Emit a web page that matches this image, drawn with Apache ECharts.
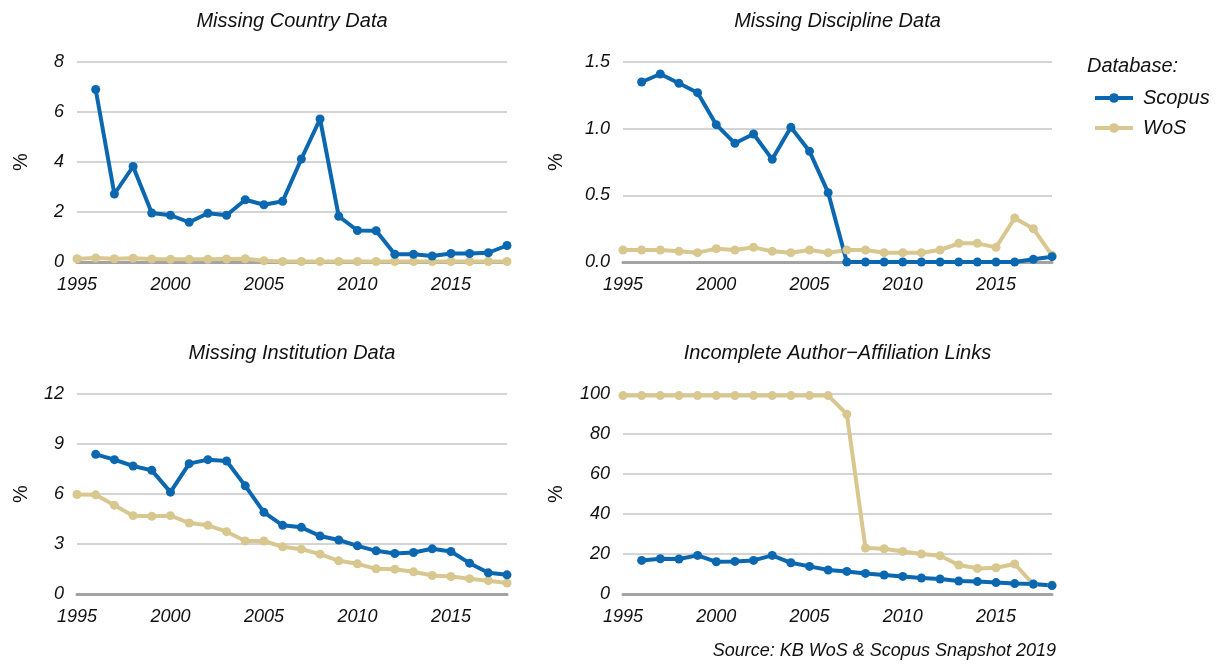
<!DOCTYPE html>
<html lang="en">
<head>
<meta charset="UTF-8">
<title>Missing data by database</title>
<script src="https://cdn.jsdelivr.net/npm/echarts@6/dist/echarts.min.js"></script>
<style>
  html, body { margin: 0; padding: 0; background: #fff; }
  #chart { width: 1221px; height: 664px; }
</style>
</head>
<body>
<div id="chart"></div>
<script>
// years on the x axis
var years = [1995, 1996, 1997, 1998, 1999, 2000, 2001, 2002, 2003, 2004, 2005, 2006,
             2007, 2008, 2009, 2010, 2011, 2012, 2013, 2014, 2015, 2016, 2017, 2018];
var xTicks = [1995, 2000, 2005, 2010, 2015];

var panelTitles = ['Missing Country Data', 'Missing Discipline Data',
                   'Missing Institution Data', 'Incomplete Author\u2212Affiliation Links'];

// Missing Country Data (%)
var countryScopus = [null, 6.90, 2.72, 3.82, 1.96, 1.87, 1.59, 1.95, 1.87, 2.49, 2.29, 2.43,
                     4.12, 5.72, 1.83, 1.26, 1.25, 0.31, 0.31, 0.24, 0.34, 0.34, 0.37, 0.66];
var countryWos = [0.13, 0.16, 0.13, 0.15, 0.12, 0.11, 0.11, 0.11, 0.12, 0.13, 0.05, 0.02,
                  0.02, 0.02, 0.02, 0.02, 0.02, 0.02, 0.02, 0.02, 0.02, 0.02, 0.02, 0.02];

// Missing Discipline Data (%)
var disciplineScopus = [null, 1.35, 1.41, 1.34, 1.27, 1.03, 0.89, 0.96, 0.77, 1.01, 0.83, 0.52,
                        0.00, 0.00, 0.00, 0.00, 0.00, 0.00, 0.00, 0.00, 0.00, 0.00, 0.02, 0.04];
var disciplineWos = [0.09, 0.09, 0.09, 0.08, 0.07, 0.10, 0.09, 0.11, 0.08, 0.07, 0.09, 0.07,
                     0.09, 0.09, 0.07, 0.07, 0.07, 0.09, 0.14, 0.14, 0.11, 0.33, 0.25, 0.05];

// Missing Institution Data (%)
var institutionScopus = [null, 8.38, 8.06, 7.68, 7.42, 6.11, 7.82, 8.06, 7.98, 6.49, 4.90, 4.12,
                         4.00, 3.48, 3.24, 2.89, 2.59, 2.43, 2.49, 2.71, 2.55, 1.85, 1.27, 1.15];
var institutionWos = [5.97, 5.95, 5.33, 4.70, 4.66, 4.70, 4.26, 4.12, 3.74, 3.18, 3.18, 2.83,
                      2.69, 2.39, 1.99, 1.81, 1.51, 1.49, 1.33, 1.11, 1.05, 0.92, 0.80, 0.66];

// Incomplete Author-Affiliation Links (%)
var linksScopus = [null, 16.8, 17.6, 17.5, 19.3, 16.1, 16.3, 16.8, 19.3, 15.6, 13.8, 12.0,
                   11.3, 10.3, 9.5, 8.8, 8.0, 7.5, 6.5, 6.2, 5.7, 5.2, 5.0, 4.2];
var linksWos = [99.2, 99.2, 99.2, 99.2, 99.2, 99.2, 99.2, 99.2, 99.2, 99.2, 99.2, 99.2,
                89.9, 23.0, 22.6, 21.3, 20.0, 19.1, 14.5, 12.8, 13.1, 15.0, 4.8, 4.5];

// y axis settings per panel
var yMax = [8, 1.5, 12, 100];
var yStep = [2, 0.5, 3, 20];

var scopusColor = '#0b68b0';
var wosColor = '#d8c78e';
var fontName = '"Liberation Sans", Arial, Helvetica, sans-serif';

function pairs(vals) {
    var out = [];
    for (var i = 0; i < years.length; i++) {
        if (vals[i] !== null) out.push([years[i], vals[i]]);
    }
    return out;
}

// panel boxes: [left, top, width, height]
var boxes = [[77, 62, 430, 200], [623, 62, 429, 200], [77, 394, 430, 200], [623, 394, 429, 200]];
var nameGaps = [46, 57, 46, 57];

var grids = [], xAxes = [], yAxes = [], titles = [];
boxes.forEach(function (b, i) {
    grids.push({ left: b[0], top: b[1], width: b[2], height: b[3], containLabel: false });
    xAxes.push({
        type: 'value', gridIndex: i, min: 1995, max: 2018, interval: 5,
        axisLine: { show: true, onZero: true, lineStyle: { color: '#a3a3a3', width: 3 } },
        axisTick: { show: false },
        splitLine: { show: false },
        axisLabel: {
            margin: 14, fontSize: 18, fontStyle: 'italic', fontFamily: fontName, color: '#111',
            showMaxLabel: false,
            formatter: function (v) { return xTicks.indexOf(v) >= 0 ? String(v) : ''; }
        }
    });
    yAxes.push({
        type: 'value', gridIndex: i, min: 0, max: yMax[i], interval: yStep[i],
        name: '%', nameLocation: 'middle', nameGap: nameGaps[i], nameRotate: 90,
        nameTextStyle: { fontSize: 20, fontFamily: fontName, color: '#111' },
        axisLine: { show: false },
        axisTick: { show: false },
        splitLine: { show: true, lineStyle: { color: '#c6c6c6', width: 1.5 } },
        axisLabel: {
            margin: 13, fontSize: 18, fontStyle: 'italic', fontFamily: fontName, color: '#111',
            formatter: function (v) { return i === 1 ? v.toFixed(1) : String(v); }
        }
    });
    titles.push({
        text: panelTitles[i], left: b[0] + b[2] / 2, top: b[1] - 51, textAlign: 'center', padding: 0,
        textStyle: { fontSize: 20, fontWeight: 'normal', fontStyle: 'italic', fontFamily: fontName, color: '#111' }
    });
});

titles.push({
    text: 'Database:', left: 1087, top: 56, padding: 0,
    textStyle: { fontSize: 20, fontWeight: 'normal', fontStyle: 'italic', fontFamily: fontName, color: '#111' }
});
titles.push({
    text: 'Source: KB WoS & Scopus Snapshot 2019', left: 1056, top: 642, textAlign: 'right', padding: 0,
    textStyle: { fontSize: 18, fontWeight: 'normal', fontStyle: 'italic', fontFamily: fontName, color: '#111' }
});

var scopusSets = [countryScopus, disciplineScopus, institutionScopus, linksScopus];
var wosSets = [countryWos, disciplineWos, institutionWos, linksWos];

function lineSeries(name, vals, color, idx) {
    return {
        name: name, type: 'line', xAxisIndex: idx, yAxisIndex: idx,
        data: pairs(vals),
        symbol: 'circle', symbolSize: 9, showSymbol: true,
        lineStyle: { color: color, width: 4 },
        itemStyle: { color: color },
        emphasis: { disabled: true }
    };
}

var series = [];
for (var k = 0; k < 4; k++) {
    series.push(lineSeries('WoS', wosSets[k], wosColor, k));
    series.push(lineSeries('Scopus', scopusSets[k], scopusColor, k));
}

var myChart = echarts.init(document.getElementById('chart'), null, { renderer: 'canvas' });
myChart.setOption({
    animation: false,
    backgroundColor: '#fff',
    title: titles,
    legend: {
        data: ['Scopus', 'WoS'],
        orient: 'vertical', left: 1088, top: 83,
        itemWidth: 38, itemHeight: 12, itemGap: 10,
        lineStyle: { width: 4 },
        textStyle: { fontSize: 20, fontStyle: 'italic', fontFamily: fontName, color: '#111', padding: [0, 0, 0, 5] }
    },
    grid: grids,
    xAxis: xAxes,
    yAxis: yAxes,
    series: series
});
</script>
</body>
</html>
